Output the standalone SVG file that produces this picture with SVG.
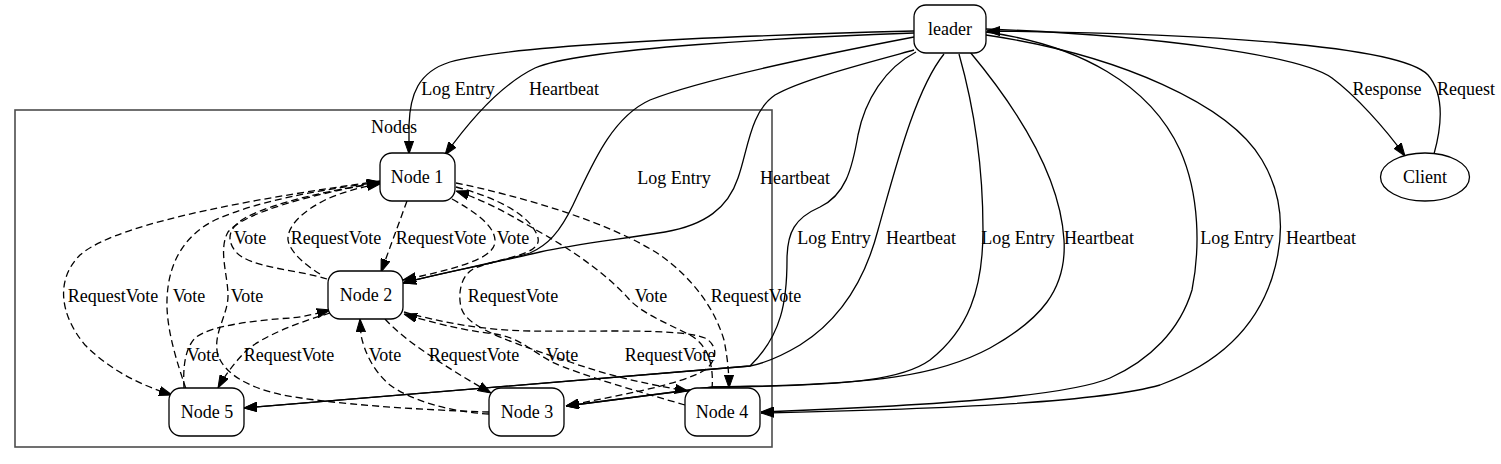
<svg xmlns="http://www.w3.org/2000/svg" width="1501" height="464" viewBox="0 0 1501 464">
<style>
text{font-family:"Liberation Serif","Times New Roman",serif;font-size:18px;fill:#000;text-anchor:middle}
.e{fill:none;stroke:#000;stroke-width:1.3;marker-end:url(#ah)}
.n{fill:none;stroke:#000;stroke-width:1.3}
.d{stroke-dasharray:7,4}
.nb{fill:#fff;stroke:#000;stroke-width:1.3}
.cl{fill:none;stroke:#4d4d4d;stroke-width:1.6}
</style>
<defs>
<marker id="ah" viewBox="0 -5 13 10" refX="13" refY="0" markerWidth="13" markerHeight="10" markerUnits="userSpaceOnUse" orient="auto">
<path d="M0,-4.6 L13,0 L0,4.6 z" fill="#000" stroke="#000" stroke-width="1" stroke-dasharray="none"/>
</marker>
</defs>
<rect width="1501" height="464" fill="#fff"/>
<g id="cluster-nodes">
<rect class="cl" x="15" y="110" width="757" height="337"/>
<text x="394" y="133">Nodes</text>
</g>
<g id="connectors">
<!-- leader edges -->
<path class="e" d="M914,31 C800,34 520,42 450,62 C418,72 410,95 409,125 L409,154"/>
<path class="e" d="M914,33 C800,37 580,48 535,68 C500,85 470,120 445,155"/>
<path class="e" d="M914,37 C820,55 700,80 650,100 C610,118 590,170 573,205 C560,232 548,245 530,253 C500,262 440,273 403,283"/>
<path class="e" d="M914,50 C870,62 800,80 775,95 C750,112 748,150 738,178 C728,208 705,225 665,232 C615,240 575,244 540,252 C500,262 440,273 403,283"/>
<path class="e" d="M916,52 C885,68 865,100 858,135 C852,170 845,195 820,207 C795,218 787,232 787,260 C787,300 782,335 750,366 L244,408"/>
<path class="e" d="M944,54 C915,90 895,170 878,230 C865,280 840,320 800,345 C780,357 765,363 750,366 L244,408"/>
<path class="e" d="M959,54 C972,100 983,160 983,230 C983,290 968,330 930,360 C905,378 860,386 713,387 L566,406"/>
<path class="e" d="M970,52 C1010,100 1060,170 1064,240 C1067,290 1040,320 990,348 C940,375 880,385 713,387 L566,406"/>
<path class="e" d="M986,32 C1080,45 1150,85 1180,150 C1200,195 1200,250 1192,290 C1180,330 1150,360 1110,378 C1070,395 950,405 761,412"/>
<path class="e" d="M986,35 C1120,55 1230,105 1262,160 C1286,200 1284,240 1272,278 C1255,330 1215,365 1160,385 C1100,402 950,409 761,413"/>
<path class="e" d="M986,29 C1150,35 1300,55 1332,78 C1355,95 1385,128 1405,156"/>
<path class="e" d="M1434,154 C1442,125 1445,95 1428,75 C1400,45 1200,33 987,31"/>
<!-- Node1 / Node2 -->
<path class="e d" d="M327,279 C300,270 250,268 236,252 C226,240 228,228 245,218 C275,202 330,190 380,183"/>
<path class="e d" d="M320,274 C305,265 290,252 288,240 C287,225 305,210 325,200 C340,193 360,187 380,184"/>
<path class="e d" d="M407,201 L381,272"/>
<path class="e d" d="M452,199 C475,212 494,225 495,240 C496,256 470,266 403,280"/>
<!-- Node1 / rank 3 -->
<path class="e d" d="M380,181 C280,195 120,220 80,255 C55,280 60,315 85,345 C110,370 140,385 172,395"/>
<path class="e d" d="M186,389 C178,365 166,330 167,300 C168,262 185,235 215,220 C260,200 320,190 380,182"/>
<path class="e d" d="M489,412 C420,410 330,404 283,395 C250,388 225,375 218,355 C212,335 228,315 228,296 C228,275 218,250 228,232 C245,212 310,195 380,182"/>
<path class="e d" d="M456,187 C495,197 532,215 538,238 C542,255 500,258 475,268 C458,276 458,300 462,310 C470,330 520,345 570,362 C610,376 645,384 688,391"/>
<path class="e d" d="M712,389 C714,365 708,345 690,335 C660,320 640,312 628,298 C610,278 580,255 545,235 C515,218 490,202 456,191"/>
<path class="e d" d="M456,183 C520,196 610,222 660,255 C695,280 715,310 724,340 C728,360 729,375 729,388"/>
<!-- Node2 / rank 3 -->
<path class="e d" d="M184,388 C183,370 184,350 195,338 C210,325 260,320 290,318 C305,317 318,313 330,310"/>
<path class="e d" d="M330,313 C300,322 265,335 247,350 C235,362 225,375 218,388"/>
<path class="e d" d="M489,414 C450,412 410,400 390,385 C372,370 364,350 361,335 L360,319"/>
<path class="e d" d="M385,319 C395,330 410,342 425,352 C445,366 468,380 491,393"/>
<path class="e d" d="M685,405 C640,392 580,375 552,362 C530,350 520,338 495,334 C460,330 430,322 404,314"/>
<path class="e d" d="M404,312 C440,322 480,330 530,331 C600,332 680,328 705,338 C718,345 718,360 705,370 C680,385 620,395 566,406"/>
</g>
<g id="edge-labels">
<text x="458" y="95">Log Entry</text>
<text x="564" y="95">Heartbeat</text>
<text x="674" y="184">Log Entry</text>
<text x="795" y="184">Heartbeat</text>
<text x="834" y="244">Log Entry</text>
<text x="921" y="244">Heartbeat</text>
<text x="1018" y="244">Log Entry</text>
<text x="1099" y="244">Heartbeat</text>
<text x="1237" y="244">Log Entry</text>
<text x="1321" y="244">Heartbeat</text>
<text x="1387" y="95">Response</text>
<text x="1466" y="95">Request</text>
<text x="250" y="244">Vote</text>
<text x="336" y="244">RequestVote</text>
<text x="441" y="244">RequestVote</text>
<text x="513" y="244">Vote</text>
<text x="113" y="302">RequestVote</text>
<text x="189" y="302">Vote</text>
<text x="247" y="302">Vote</text>
<text x="513" y="302">RequestVote</text>
<text x="651" y="302">Vote</text>
<text x="756" y="302">RequestVote</text>
<text x="203" y="361">Vote</text>
<text x="289" y="361">RequestVote</text>
<text x="385" y="361">Vote</text>
<text x="474" y="361">RequestVote</text>
<text x="562" y="361">Vote</text>
<text x="670" y="361">RequestVote</text>
</g>
<g id="node-leader"><rect class="nb" x="914" y="5" width="72" height="48" rx="12"/><text x="950" y="35">leader</text></g>
<g id="node-client"><ellipse class="nb" cx="1425" cy="177" rx="44.5" ry="24"/><text x="1425" y="183">Client</text></g>
<g id="node-1"><rect class="nb" x="380" y="153" width="75" height="48" rx="12"/><text x="417" y="183">Node 1</text></g>
<g id="node-2"><rect class="nb" x="328" y="271" width="75" height="48" rx="12"/><text x="366" y="301">Node 2</text></g>
<g id="node-3"><rect class="nb" x="489" y="388" width="75" height="48" rx="12"/><text x="527" y="418">Node 3</text></g>
<g id="node-4"><rect class="nb" x="685" y="388" width="75" height="48" rx="12"/><text x="722" y="418">Node 4</text></g>
<g id="node-5"><rect class="nb" x="169" y="388" width="75" height="48" rx="12"/><text x="207" y="418">Node 5</text></g>
</svg>
